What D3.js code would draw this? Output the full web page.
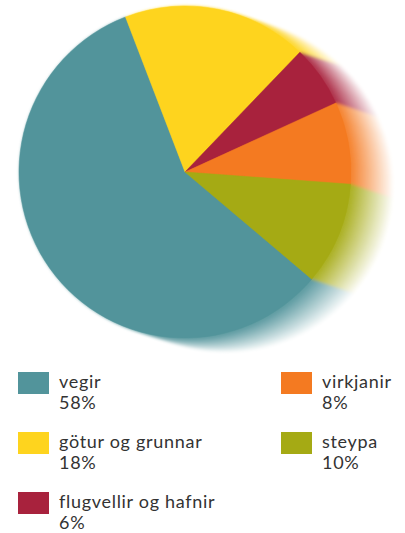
<!DOCTYPE html>
<html>
<head>
<meta charset="utf-8">
<script src="https://cdn.jsdelivr.net/npm/d3@7"></script>
<style>
  html, body { margin: 0; padding: 0; background: #fff; }
  svg { display: block; }
  text { font-family: Lato, "Open Sans", sans-serif; fill: #333; }
</style>
</head>
<body>
<script>
const categories = ["vegir", "götur og grunnar", "flugvellir og hafnir", "virkjanir", "steypa"];
const values = [58, 18, 6, 8, 10];
const percentLabels = ["58%", "18%", "6%", "8%", "10%"];
const colors = ["#52949b", "#fed41e", "#a8223d", "#f47a21", "#a5aa14"];

const W = 405, H = 533;
const svg = d3.select("body").append("svg").attr("width", W).attr("height", H);

const cx = 185, cy = 172, R = 166;
const startDeg = 130.2;
const pie = d3.pie().sort(null).value(d => d)
  .startAngle(startDeg * Math.PI / 180)
  .endAngle((startDeg + 360) * Math.PI / 180);
const arcs = pie(values);
const arc = d3.arc().innerRadius(0).outerRadius(R);

const defs = svg.append("defs");
defs.append("filter").attr("id", "soft").attr("x", "-20%").attr("y", "-20%").attr("width", "140%").attr("height", "140%")
  .append("feGaussianBlur").attr("stdDeviation", 1.6);

const ext = svg.append("g").attr("filter", "url(#soft)");
const N = 45, dx = 45, dy = 15;
for (let i = N; i >= 1; i--) {
  const t = i / N;
  const g = ext.append("g").attr("transform", `translate(${cx + dx * t},${cy + dy * t})`);
  const fade = Math.min(1, 0.06 + 0.98 * t);
  g.selectAll("path").data(arcs).join("path")
    .attr("d", arc)
    .attr("fill", (d, k) => d3.interpolateRgb(colors[k], "#ffffff")(fade))
    .attr("stroke", (d, k) => d3.interpolateRgb(colors[k], "#ffffff")(fade))
    .attr("stroke-width", 0.6);
}

const main = svg.append("g").attr("transform", `translate(${cx},${cy})`);
main.selectAll("path").data(arcs).join("path")
  .attr("d", arc)
  .attr("fill", (d, k) => colors[k])
  .attr("stroke", (d, k) => colors[k])
  .attr("stroke-width", 0.5);

// Legend
const legendPos = [
  {x: 18, y: 372}, {x: 18, y: 432}, {x: 18, y: 492},
  {x: 281, y: 372}, {x: 281, y: 432}
];
const lg = svg.append("g");
categories.forEach((c, k) => {
  const p = legendPos[k];
  lg.append("rect").attr("x", p.x).attr("y", p.y).attr("width", 31).attr("height", 22).attr("fill", colors[k]);
  lg.append("text").attr("x", p.x + 41).attr("y", p.y + 15.5)
    .attr("font-size", 18).attr("letter-spacing", 0.7).text(c);
  lg.append("text").attr("x", p.x + 41).attr("y", p.y + 37)
    .attr("font-size", 18).attr("letter-spacing", 0.7).text(percentLabels[k]);
});
</script>
</body>
</html>
